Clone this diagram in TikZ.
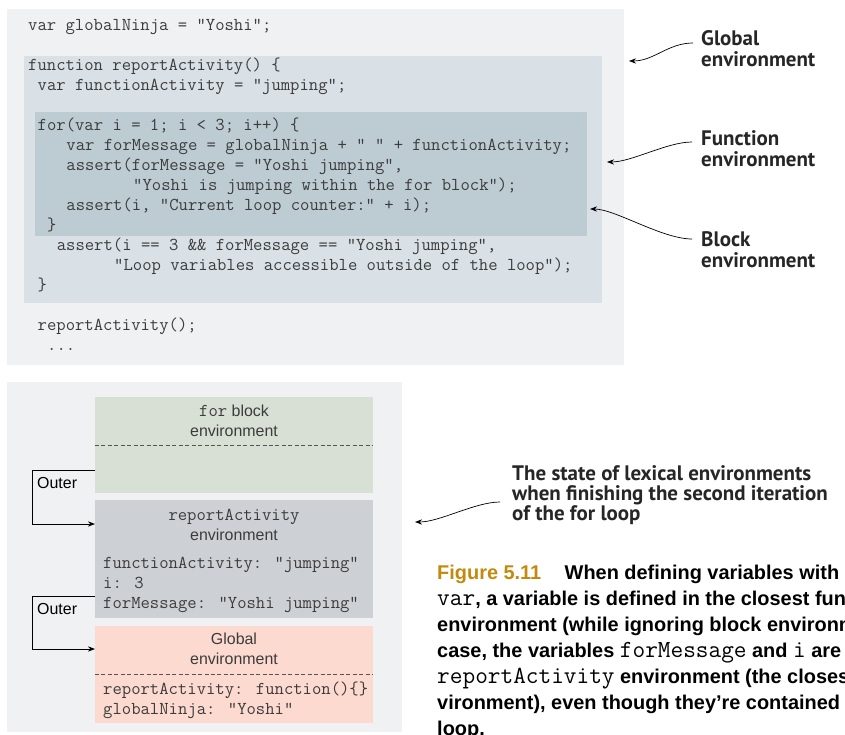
\documentclass[tikz,border=0pt]{standalone}
\usepackage{fontspec}
\setsansfont{Liberation Sans}
\newfontfamily\notefont{PT Sans}
\usetikzlibrary{arrows.meta}
\definecolor{panelbg}{RGB}{240,241,243}
\definecolor{funcfill}{RGB}{217,224,230}
\definecolor{blockfill}{RGB}{189,204,211}
\definecolor{forfill}{RGB}{216,224,214}
\definecolor{actfill}{RGB}{205,208,213}
\definecolor{globfill}{RGB}{252,218,208}
\definecolor{codegray}{RGB}{60,60,60}
\definecolor{dashgray}{RGB}{85,85,85}
\definecolor{figgold}{RGB}{196,138,14}
\newcommand{\codefont}{\ttfamily\fontsize{15.5}{17}\selectfont}
\newcommand{\boxfont}{\sffamily\fontsize{13.6}{17}\selectfont}
\newcommand{\boxcode}[1]{{\ttfamily\fontsize{15.5}{17}\selectfont #1}}
\newcommand{\capcode}[1]{{\mdseries\ttfamily\fontsize{21}{22}\selectfont #1}}

\begin{document}
\begin{tikzpicture}[
  x=0.03cm, y=-0.03cm,
  >={Stealth[length=6pt,width=4.5pt]},
  panel/.style={inner sep=0pt, outer sep=0pt, draw=none},
  code/.style={anchor=mid west, inner sep=0pt, yshift=-2.5pt, font=\codefont, text=codegray},
  envhead/.style={align=center, inner sep=0pt, font=\boxfont, text=codegray},
  outerlabel/.style={anchor=west, inner sep=0pt, font=\boxfont, text=black},
  note/.style={anchor=west, align=left, inner sep=0pt,
    font=\notefont\bfseries\fontsize{17.9}{17.9}\selectfont, text=black!85},
  pointer/.style={->, black, line width=0.6pt},
  outerarrow/.style={->, black, line width=0.8pt},
  divider/.style={dashgray, line width=0.8pt, dash pattern=on 3.4pt off 2.1pt}
]
\path[use as bounding box, clip] (0,0) rectangle (845,735);
\fill[white] (0,0) rectangle (845,735);

% ---------------------------------------------------------------
% Code listing with its three environments
% ---------------------------------------------------------------
\node[panel, fill=panelbg, minimum width=18.51cm, minimum height=10.68cm] (globalbox) at (315.5,187) {};
\node[panel, fill=funcfill, minimum width=17.34cm, minimum height=7.41cm] (funcbox) at (313,179.5) {};
\node[panel, fill=blockfill, minimum width=16.56cm, minimum height=3.72cm] (blockbox) at (311,174) {};

\node[code] (l1) at (28,25) {var globalNinja = "Yoshi";};
\node[code] (l2) at (28,65) {function reportActivity() \{};
\node[code] (l3) at (37.5,85) {var functionActivity = "jumping";};
\node[code] (l4) at (37.5,125) {for(var i = 1; i < 3; i++) \{};
\node[code] (l5) at (66.2,145) {var forMessage = globalNinja + " " + functionActivity;};
\node[code] (l6) at (66.2,165) {assert(forMessage = "Yoshi jumping",};
\node[code] (l7) at (133,185) {"Yoshi is jumping within the for block");};
\node[code] (l8) at (66.2,205) {assert(i, "Current loop counter:" + i);};
\node[code] (l9) at (47,225) {\}};
\node[code] (l10) at (56.6,245) {assert(i == 3 \&\& forMessage == "Yoshi jumping",};
\node[code] (l11) at (114,265) {"Loop variables accessible outside of the loop");};
\node[code] (l12) at (37.5,285) {\}};
\node[code] (l13) at (37.5,325) {reportActivity();};
\node[code] (l14) at (47,345) {...};

% annotations
\node[note] (globalnote) at (701,49) {Global\\environment};
\node[note] (funcnote) at (701,149) {Function\\environment};
\node[note] (blocknote) at (701,250) {Block\\environment};

\draw[pointer] ([shift={(-8,-6)}]globalnote.west) .. controls +(-25,0) and +(25,0) .. ([shift={(5,52)}]globalbox.north east);
\draw[pointer] ([shift={(-9,-7)}]funcnote.west) .. controls +(-25,0) and +(25,0) .. ([shift={(5,106)}]funcbox.north east);
\draw[pointer] ([shift={(-9,-11)}]blocknote.west) .. controls +(-30,0) and +(25,0) .. ([shift={(3,97)}]blockbox.north east);

% ---------------------------------------------------------------
% Lexical environments after the second iteration
% ---------------------------------------------------------------
\node[panel, fill=panelbg, minimum width=11.85cm, minimum height=10.5cm] (statebox) at (204.5,557) {};

\node[panel, fill=forfill, minimum width=8.34cm, minimum height=2.88cm] (forenv) at (234,445) {};
\node[panel, fill=actfill, minimum width=8.34cm, minimum height=3.54cm] (actenv) at (234,559) {};
\node[panel, fill=globfill, minimum width=8.34cm, minimum height=2.91cm] (globenv) at (234,674.5) {};

\draw[divider] (forenv.west) -- (forenv.east);
\draw[divider] (globenv.west) -- (globenv.east);

\node[envhead] (forhead) at (234,421) {\boxcode{for} block\\environment};
\node[envhead] (acthead) at (234,525) {\boxcode{reportActivity}\\environment};
\node[envhead] (globhead) at (234,649) {Global\\environment};

\node[code] (a1) at (103,563) {functionActivity: "jumping"};
\node[code] (a2) at (103,583) {i: 3};
\node[code] (a3) at (103,603) {forMessage: "Yoshi jumping"};
\node[code] (g1) at (103,689) {reportActivity: function()\{\}};
\node[code] (g2) at (103,709) {globalNinja: "Yoshi"};

\draw[outerarrow] ([shift={(0,-23)}]forenv.south west) -- ++(-63,0) |- ([shift={(0,24)}]actenv.north west);
\draw[outerarrow] ([shift={(0,-22)}]actenv.south west) -- ++(-63,0) |- ([shift={(0,23)}]globenv.north west);
\node[outerlabel] (outer1) at (37,483) {Outer};
\node[outerlabel] (outer2) at (37,609) {Outer};

\node[note, font=\notefont\bfseries\fontsize{17.9}{17}\selectfont] (statenote) at (512,495)
  {The state of lexical environments\\when finishing the second iteration\\of the for loop};
\draw[pointer] ([shift={(-12,7)}]statenote.west) .. controls +(-25,0) and +(25,0) .. ([shift={(13,140)}]statebox.north east);

% caption
\node[anchor=north west, align=left, inner sep=0pt, font=\sffamily\bfseries\fontsize{17}{22.1}\selectfont] (caption) at (437,565)
  {\textcolor{figgold}{Figure 5.11}\hspace{20pt}When defining variables with\\
   \capcode{var}, a variable is defined in the closest function\\
   environment (while ignoring block environments). In this\\
   case, the variables \capcode{forMessage} and \capcode{i} are registered in the\\
   \capcode{reportActivity} environment (the closest function en-\\
   vironment), even though they’re contained within the for\\
   loop.};
\end{tikzpicture}
\end{document}
